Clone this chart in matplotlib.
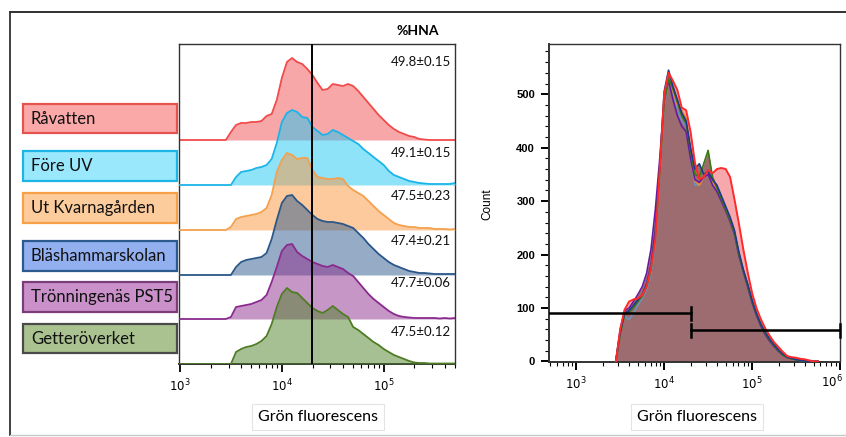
import numpy as np
import matplotlib
matplotlib.use('Agg')
import matplotlib.pyplot as plt
from matplotlib.patches import Rectangle
from matplotlib.lines import Line2D
from matplotlib.ticker import LogLocator, MultipleLocator, NullFormatter

# samples, top to bottom
samples = ['Råvatten', 'Före UV', 'Ut Kvarnagården', 'Bläshammarskolan',
           'Trönningenäs PST5', 'Getteröverket']
hna_mean = [49.8, 49.1, 47.5, 47.4, 47.7, 47.5]
hna_sd = [0.15, 0.15, 0.23, 0.21, 0.06, 0.12]
gate_log = 4.30   # HNA / LNA split, log10 green fluorescence

# left panel: log10 bin centres and ridge heights (offset units)
ridge_bins = [3.45, 3.50, 3.55, 3.60, 3.65, 3.70, 3.75, 3.80, 3.85, 3.90,
              3.95, 4.00, 4.05, 4.10, 4.15, 4.20, 4.25, 4.30, 4.35, 4.40,
              4.45, 4.50, 4.55, 4.60, 4.65, 4.70, 4.75, 4.80, 4.85, 4.90,
              4.95, 5.00, 5.05, 5.10, 5.15, 5.20, 5.25, 5.30, 5.35, 5.40,
              5.45, 5.50, 5.55, 5.60, 5.65, 5.70]
ravatten = [0, 8, 15, 17, 17, 18, 18, 19, 24, 26, 40, 62, 78, 82, 78, 76, 71, 65, 57, 50,
            51, 56, 55, 54, 56, 54, 49, 43, 37, 31, 25, 20, 15, 11, 8, 6, 4, 3, 1, 0.5,
            0, 0, 0, 0, 0, 0]
fore_uv = [0, 0, 8, 13, 14, 15, 17, 18, 20, 26, 42, 63, 72, 75, 73, 68, 67, 58, 54, 50,
           51, 55, 53, 50, 47, 44, 41, 36, 32, 28, 24, 20, 14, 10, 8, 6, 4, 3, 2, 1.5,
           1, 1, 1, 1, 1, 2]
ut_kvarna = [0, 3, 11, 13, 14, 15, 16, 18, 22, 35, 58, 70, 77, 75, 71, 72, 72, 60, 53, 52,
             51, 51, 52, 51, 44, 40, 37, 34, 29, 24, 19, 15, 11, 7, 5, 4, 3, 3, 2, 2,
             2, 1, 1, 1, 0.5, 1]
blasham = [0, 0, 8, 13, 15, 16, 17, 18, 22, 36, 55, 72, 79, 80, 74, 70, 65, 60, 56, 54,
           53, 53, 52, 51, 49, 47, 42, 37, 31, 26, 21, 17, 13, 10, 8, 6, 4, 3, 2, 2,
           1.5, 1, 1, 1, 1, 1]
tronning = [0, 2, 12, 13, 14, 15, 17, 19, 24, 37, 52, 68, 74, 75, 67, 63, 60, 57, 55, 53,
            52, 54, 52, 50, 46, 43, 37, 31, 25, 20, 16, 12, 8, 5, 3, 2, 1.5, 1, 1, 1,
            1, 1, 0.5, 1, 0.5, 1]
getter = [0, 0, 12, 15, 17, 18, 20, 23, 28, 40, 57, 70, 76, 72, 71, 66, 61, 56, 53, 51,
          54, 58, 54, 50, 47, 37, 34, 30, 26, 22, 19, 15, 12, 9, 7, 5, 3, 1.5, 1, 1,
          0.5, 0.5, 0.5, 0.5, 0.5, 0.5]
ridges = [ravatten, fore_uv, ut_kvarna, blasham, tronning, getter]
ridge_offsets = [224, 179, 134, 89, 45, 0]

# right panel: overlaid counts
count_bins = [3.45, 3.50, 3.55, 3.60, 3.65, 3.70, 3.75, 3.80, 3.85, 3.90,
              3.95, 4.00, 4.05, 4.10, 4.15, 4.20, 4.25, 4.30, 4.35, 4.40,
              4.45, 4.50, 4.55, 4.60, 4.65, 4.70, 4.75, 4.80, 4.85, 4.90,
              4.95, 5.00, 5.05, 5.10, 5.15, 5.20, 5.25, 5.30, 5.35, 5.40,
              5.45, 5.50, 5.55, 5.60, 5.65, 5.70, 5.75]
cnt_ravatten = [0, 60, 97, 112, 116, 118, 124, 140, 175, 230, 360, 500, 540, 525, 508, 475,
                470, 430, 372, 341, 345, 358, 352, 360, 362, 360, 345, 303, 258, 210, 167,
                128, 100, 79, 62, 48, 36, 27, 18, 10, 8, 7, 5, 4, 2, 0, 0]
cnt_fore_uv = [0, 55, 85, 78, 90, 105, 118, 135, 165, 225, 350, 480, 520, 500, 470, 450,
               440, 380, 330, 330, 345, 350, 330, 320, 300, 285, 265, 240, 200, 170, 145,
               115, 90, 70, 55, 42, 32, 22, 14, 8, 5, 3, 2, 1, 0, 0, 0]
cnt_ut_kvarna = [0, 52, 88, 92, 102, 114, 125, 142, 175, 235, 355, 490, 525, 505, 480, 470,
                 455, 390, 338, 330, 345, 352, 335, 322, 302, 285, 265, 242, 202, 172, 144,
                 114, 90, 70, 54, 41, 31, 21, 13, 8, 5, 3, 2, 1, 0, 0, 0]
cnt_blasham = [0, 55, 90, 95, 105, 115, 125, 145, 180, 245, 365, 505, 545, 515, 490, 465,
               450, 400, 360, 370, 350, 355, 340, 330, 310, 290, 270, 245, 205, 172, 145,
               115, 90, 70, 55, 42, 32, 22, 14, 9, 6, 4, 2, 1, 0, 0, 0]
cnt_tronning = [0, 60, 95, 100, 112, 125, 140, 165, 210, 285, 380, 490, 525, 490, 460, 440,
                430, 380, 340, 335, 345, 350, 330, 318, 300, 282, 262, 238, 198, 168, 140,
                110, 86, 66, 50, 38, 28, 19, 12, 7, 5, 3, 2, 1, 0, 0, 0]
cnt_getter = [0, 50, 88, 92, 100, 112, 122, 140, 172, 238, 355, 485, 530, 510, 485, 460,
              445, 395, 350, 345, 370, 395, 345, 325, 305, 285, 265, 240, 200, 170, 142,
              112, 88, 68, 52, 40, 30, 20, 12, 8, 5, 3, 2, 1, 0, 0, 0]
count_series = [cnt_ravatten, cnt_fore_uv, cnt_ut_kvarna, cnt_blasham, cnt_tronning, cnt_getter]

decade_labels = ['$10^3$', '$10^4$', '$10^5$', '$10^6$']

# colours
ridge_fill = ['#f05050', '#1ec8f5', '#fa963c', '#2e5b8e', '#8e2e8e', '#508228']
ridge_line = ['#f04a4a', '#1ab4e8', '#f4a04c', '#2a5688', '#8a2a8e', '#4e7d24']
box_fill = ['#fba8a8', '#9ae8fc', '#fdcc9c', '#92aff0', '#c990c9', '#a9c28f']
box_edge = ['#e5534f', '#1bb5e8', '#f8a048', '#2d5a8e', '#7a3d7a', '#4a4a4a']
count_line = ['#ff2a2a', '#6c94b8', '#f08a30', '#1c3a8a', '#6a1aa0', '#3a7a10']

W, H = 846, 437
fig = plt.figure(figsize=(W / 100, H / 100), dpi=100)
plt.rcParams['font.family'] = ['Lato', 'DejaVu Sans']


def fx(px):
    return px / W


def fy(py):
    return 1 - py / H


# outer frame
fig.add_artist(Line2D([fx(10), fx(10)], [fy(12), fy(435)], color='#404040', lw=1.4))
fig.add_artist(Line2D([fx(10), 1], [fy(12), fy(12)], color='#303030', lw=1.4))
fig.add_artist(Line2D([fx(10), 1], [fy(435), fy(435)], color='#c8c8c8', lw=1.0))

# ---- left: stacked histograms
ax1 = fig.add_axes([fx(179), fy(364), fx(455 - 179), (364 - 44) / H])
xb = 10 ** np.array(ridge_bins)
for i, (h, off) in enumerate(zip(ridges, ridge_offsets)):
    xs = np.concatenate([[10 ** 2.9], xb, [10 ** 5.8]])
    ys = off + np.concatenate([[0], h, [h[-1]]])
    ax1.fill_between(xs, off, ys, color=ridge_fill[i], alpha=0.5, lw=0, zorder=2 + i)
    ax1.plot(xs, ys, color=ridge_line[i], lw=1.3, zorder=2 + i)
ax1.axvline(10 ** gate_log, color='black', lw=1.4, zorder=20)
ax1.set_xscale('log')
ax1.set_xlim(10 ** 2.99, 10 ** 5.70)
ax1.set_ylim(0, 320)
ax1.set_yticks([])
ax1.set_xticks([1e3, 1e4, 1e5], labels=decade_labels[:3])
ax1.xaxis.set_minor_locator(LogLocator(base=10, subs=np.arange(2, 10)))
ax1.xaxis.set_minor_formatter(NullFormatter())
ax1.tick_params(axis='x', which='major', length=6, width=1.3, labelsize=8.5, pad=4)
ax1.tick_params(axis='x', which='minor', length=3, width=0.8)
for lab in ax1.get_xticklabels():
    lab.set_fontfamily('Liberation Sans')
for s in ax1.spines.values():
    s.set_color('#333333')
    s.set_linewidth(1.0)
ax1.spines['bottom'].set_linewidth(1.4)

# sample label boxes
box_rows = [(104, 133), (151, 181), (193, 223), (241, 271), (282, 312), (324, 353)]
for i, name in enumerate(samples):
    y0, y1 = box_rows[i]
    fig.add_artist(Rectangle((fx(23), fy(y1)), fx(177 - 23), (y1 - y0) / H,
                             transform=fig.transFigure, facecolor=box_fill[i],
                             edgecolor=box_edge[i], lw=1.6))
    fig.text(fx(31), fy((y0 + y1) / 2), name, fontsize=12, color='#111111',
             va='center', ha='left')

fig.text(fx(418), fy(31), '%HNA', fontsize=10, fontweight='bold', ha='center', va='center')
hna_rows = [62, 153, 196, 241, 283, 332]
for i in range(len(samples)):
    fig.text(fx(451), fy(hna_rows[i]), f'{hna_mean[i]}±{hna_sd[i]:.2f}', fontsize=9.5,
             ha='right', va='center', color='#111111')

bbox = dict(boxstyle='square,pad=0.35', facecolor='white', edgecolor='#e4e4e4', lw=0.8)
fig.text(fx(318), fy(417), 'Grön fluorescens', fontsize=11.5, ha='center', va='center', bbox=bbox)

# ---- right: overlaid histograms with gates
ax2 = fig.add_axes([fx(549), fy(362), fx(840 - 549), (362 - 44) / H])
xc = 10 ** np.array(count_bins)
ax2.fill_between(xc, 0, cnt_ravatten, color='#f7a8ac', lw=0, zorder=1)
for i in range(1, 6):
    ax2.fill_between(xc, 0, count_series[i], color='#9c6c70', lw=0, zorder=2)
for i in [1, 2, 4, 5, 3]:
    ax2.plot(xc, count_series[i], color=count_line[i], lw=1.2, zorder=3)
ax2.plot(xc, cnt_ravatten, color=count_line[0], lw=1.4, zorder=4)

# LNA / HNA gates
lna_y, hna_y, cap = 90, 58, 12
ax2.plot([10 ** 2.69, 10 ** gate_log], [lna_y, lna_y], color='black', lw=1.8, zorder=6)
ax2.plot([10 ** gate_log] * 2, [lna_y - cap, lna_y + cap], color='black', lw=1.8, zorder=6)
ax2.plot([10 ** gate_log, 10 ** 6.0], [hna_y, hna_y], color='black', lw=1.8, zorder=6)
ax2.plot([10 ** gate_log] * 2, [hna_y - cap, hna_y + cap], color='black', lw=1.8, zorder=6)
ax2.plot([10 ** 6.0] * 2, [hna_y - cap, hna_y + cap], color='black', lw=1.8, zorder=6,
         clip_on=False)

ax2.set_xscale('log')
ax2.set_xlim(10 ** 2.69, 10 ** 6.0)
ax2.set_ylim(-1, 594)
# last decade label is set by hand so it stays inside the frame
ax2.set_xticks([1e3, 1e4, 1e5, 1e6], labels=decade_labels[:3] + [''])
ax2.yaxis.set_minor_locator(MultipleLocator(20))
ax2.xaxis.set_minor_locator(LogLocator(base=10, subs=np.arange(2, 10)))
ax2.xaxis.set_minor_formatter(NullFormatter())
ax2.set_yticks(range(0, 501, 100))
ax2.tick_params(axis='both', which='major', length=6, width=1.4, labelsize=8.5, pad=4)
ax2.tick_params(axis='y', labelsize=8)
ax2.tick_params(axis='both', which='minor', length=3, width=0.8)
for lab in ax2.get_xticklabels() + ax2.get_yticklabels():
    lab.set_fontfamily('Liberation Sans')
for lab in ax2.get_yticklabels():
    lab.set_fontweight('bold')
for s in ax2.spines.values():
    s.set_color('#333333')
    s.set_linewidth(1.0)
ax2.spines['bottom'].set_linewidth(1.4)
ax2.spines['left'].set_linewidth(1.4)
fig.text(fx(832), fy(382), decade_labels[3], fontsize=8.5, ha='center', va='center',
         family='Liberation Sans')
fig.text(fx(487), fy(204), 'Count', fontsize=8.5, rotation=90, ha='center', va='center',
         family='Liberation Sans')
fig.text(fx(697), fy(417), 'Grön fluorescens', fontsize=11.5, ha='center', va='center', bbox=bbox)

fig.savefig('out.png', dpi=100)
